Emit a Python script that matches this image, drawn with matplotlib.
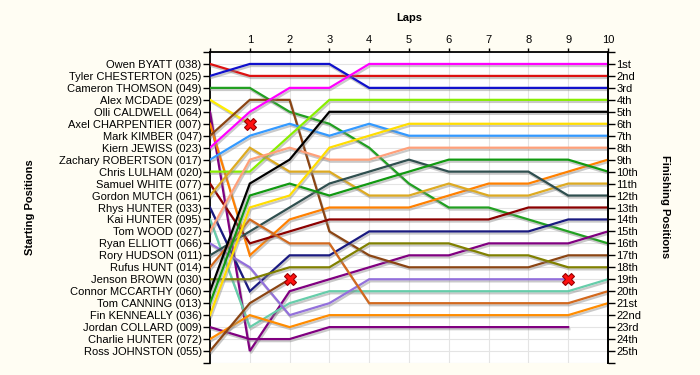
import matplotlib
matplotlib.use('Agg')
import matplotlib.pyplot as plt
import matplotlib.patheffects as pe

plt.rcParams['font.family'] = ['Liberation Sans', 'DejaVu Sans']
plt.rcParams['font.size'] = 8

# starting grid order
drivers = ['Owen BYATT (038)', 'Tyler CHESTERTON (025)', 'Cameron THOMSON (049)',
           'Alex MCDADE (029)', 'Olli CALDWELL (064)', 'Axel CHARPENTIER (007)',
           'Mark KIMBER (047)', 'Kiern JEWISS (023)', 'Zachary ROBERTSON (017)',
           'Chris LULHAM (020)', 'Samuel WHITE (077)', 'Gordon MUTCH (061)',
           'Rhys HUNTER (033)', 'Kai HUNTER (095)', 'Tom WOOD (027)',
           'Ryan ELLIOTT (066)', 'Rory HUDSON (011)', 'Rufus HUNT (014)',
           'Jenson BROWN (030)', 'Connor MCCARTHY (060)', 'Tom CANNING (013)',
           'Fin KENNEALLY (036)', 'Jordan COLLARD (009)', 'Charlie HUNTER (072)',
           'Ross JOHNSTON (055)']

# position at end of each lap (lap 0 = grid)
positions = [
    [1, 2, 2, 2, 2, 2, 2, 2, 2, 2, 2],
    [2, 1, 1, 1, 3, 3, 3, 3, 3, 3, 3],
    [3, 3, 5, 6, 8, 11, 13, 13, 14, 15, 16],
    [4, 6],
    [5, 25, 20, 19, 18, 17, 17, 16, 16, 16, 15],
    [6, 17, 14, 13, 13, 13, 12, 11, 11, 10, 9],
    [7, 4, 4, 15, 17, 18, 18, 18, 18, 17, 17],
    [8, 5, 3, 3, 1, 1, 1, 1, 1, 1, 1],
    [9, 7, 6, 7, 6, 7, 7, 7, 7, 7, 7],
    [10, 10, 7, 4, 4, 4, 4, 4, 4, 4, 4],
    [11, 16, 15, 14, 14, 14, 14, 14, 13, 13, 13],
    [12, 8, 10, 10, 12, 12, 11, 12, 12, 11, 11],
    [13, 20, 17, 17, 15, 15, 15, 15, 15, 14, 14],
    [14, 23, 21, 20, 20, 20, 20, 20, 20, 20, 19],
    [15, 9, 8, 9, 9, 8, 8, 8, 8, 8, 8],
    [16, 18, 22, 21, 19, 19, 19, 19, 19, 19],
    [17, 15, 13, 11, 10, 9, 10, 10, 10, 12, 12],
    [18, 14, 16, 16, 21, 21, 21, 21, 21, 21, 20],
    [19, 19, 18, 18, 16, 16, 16, 17, 17, 18, 18],
    [20, 11, 9, 5, 5, 5, 5, 5, 5, 5, 5],
    [21, 12, 11, 12, 11, 10, 9, 9, 9, 9, 10],
    [22, 13, 12, 8, 7, 6, 6, 6, 6, 6, 6],
    [23, 24, 24, 23, 23, 23, 23, 23, 23, 23],
    [24, 22, 23, 22, 22, 22, 22, 22, 22, 22, 21],
    [25, 21, 19],
]

# drivers who retired (index into drivers)
retired = [3, 15, 24]

colors = ['#dd1111', '#1111cc', '#22a022', '#ffee00', '#800080', '#ff8000',
          '#8b4513', '#ff00ff', '#3399ff', '#88ee00', '#8b0000', '#ddaa22',
          '#1a1a80', '#66cdaa', '#ffa07a', '#9370db', '#2f4f4f', '#d2691e',
          '#808000', '#000000', '#119911', '#ffdd00', '#800080', '#ff8c00',
          '#8b4513']

finish_labels = ['1st', '2nd', '3rd'] + ['%dth' % i for i in range(4, 21)] + \
                ['21st', '22nd', '23rd', '24th', '25th']
lap_labels = [str(i) for i in range(1, 11)]

fig = plt.figure(figsize=(7, 3.75), dpi=100, facecolor='#fffdf3')
ax = fig.add_axes([210 / 700, 1 - 363 / 375, 398 / 700, 311 / 375])
ax.set_facecolor('white')

shadow = [pe.SimpleLineShadow(offset=(0.8, -1.5), shadow_color='#888888', alpha=0.45),
          pe.Normal()]
for i, pos in enumerate(positions):
    laps = list(range(len(pos)))
    ax.plot(laps, pos, color=colors[i], lw=1.6, solid_joinstyle='miter',
            path_effects=shadow, zorder=3)
for i in retired:
    pos = positions[i]
    ax.plot(len(pos) - 1, pos[-1], marker='X', ms=8, color='#ff1010',
            mec='#990000', mew=0.8, zorder=5)

ax.set_xlim(0, 10)
ax.set_ylim(26, 0)
ax.set_xticks(range(0, 11))
ax.set_xticklabels([''] + lap_labels)
ax.xaxis.tick_top()
ax.set_yticks(range(0, 27))
ax.set_yticklabels([''] + drivers + [''])
ax.grid(True, color='#e4e4e4', lw=0.8, zorder=0)
ax.set_axisbelow(True)
ax.tick_params(axis='x', direction='out', length=3, width=1, pad=2)
ax.tick_params(axis='y', direction='out', length=5, width=1, pad=1)
for s in ['left', 'top', 'right']:
    ax.spines[s].set_linewidth(1.3)
ax.spines['bottom'].set_visible(False)

ax2 = ax.twinx()
ax2.set_ylim(26, 0)
ax2.set_yticks(range(0, 27))
ax2.set_yticklabels([''] + finish_labels + [''])
ax2.tick_params(axis='y', direction='out', length=5, width=1, pad=1)
ax2.spines['right'].set_linewidth(1.3)
ax2.spines['bottom'].set_visible(False)
ax2.spines['top'].set_visible(False)
ax2.spines['left'].set_visible(False)

fig.text(409 / 700, 1 - 18 / 375, 'Laps', ha='center', va='center', fontweight='bold')
fig.text(30 / 700, 1 - 207 / 375, 'Starting Positions', ha='center', va='center',
         rotation=90, fontweight='bold')
fig.text(665 / 700, 1 - 207 / 375, 'Finishing Positions', ha='center', va='center',
         rotation=270, fontweight='bold')

fig.savefig('out.png', dpi=100, facecolor=fig.get_facecolor())
